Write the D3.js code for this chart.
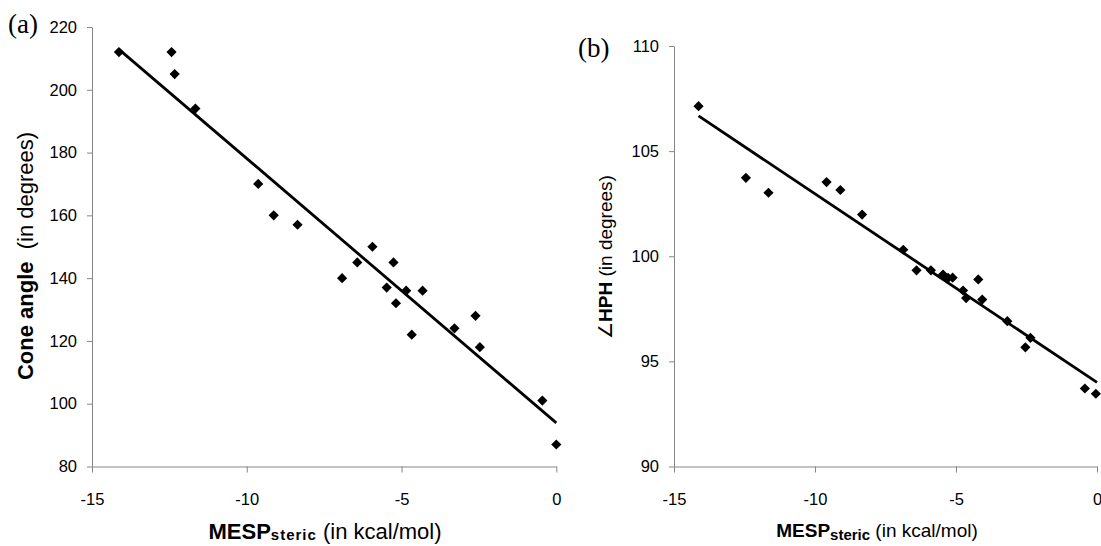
<!DOCTYPE html>
<html>
<head>
<meta charset="utf-8">
<script src="https://cdn.jsdelivr.net/npm/d3@7"></script>
<style>
  body { margin: 0; background: #fff; }
  svg { display: block; }
  .axis path, .axis line { stroke: #868686; stroke-width: 1; }
</style>
</head>
<body>
<div id="chart"></div>
<script>
// panel (a): cone angle vs MESP steric
var mespA = [-14.13, -12.43, -12.33, -11.66, -9.63, -9.13, -8.36, -6.92, -6.43, -5.94,
    -5.48, -5.26, -5.18, -4.85, -4.67, -4.32, -3.29, -2.61, -2.47, -0.45, 0.0];
var coneAngle = [212, 212, 205, 194, 170, 160, 157, 140, 145, 150,
    137, 145, 132, 136, 122, 136, 124, 128, 118, 101, 87];
var trendA = { slope: -8.42, intercept: 93.9, from: -14.13, to: 0 };
var yTicksA = [80, 100, 120, 140, 160, 180, 200, 220];

// panel (b): HPH angle vs MESP steric
var mespB = [-14.13, -12.45, -11.65, -9.59, -9.10, -8.33, -6.87, -6.40, -5.89, -5.46,
    -5.28, -5.12, -4.75, -4.64, -4.21, -4.07, -3.18, -2.54, -2.36, -0.43, -0.04];
var hphAngle = [107.14, 103.73, 103.02, 103.53, 103.15, 101.98, 100.31, 99.33, 99.33, 99.13,
    98.97, 98.98, 98.37, 98.01, 98.90, 97.94, 96.91, 95.67, 96.12, 93.71, 93.46];
var trendB = { slope: -0.897, intercept: 94.0, from: -14.13, to: 0 };
var yTicksB = [90, 95, 100, 105, 110];

var xTicks = [-15, -10, -5, 0];

var svgWidth = 1101;
var svgHeight = 546;

var svg = d3.select("#chart")
    .append("svg")
    .attr("width", svgWidth)
    .attr("height", svgHeight);

var sans = "'Liberation Sans', Arial, sans-serif";
var serif = "'Liberation Serif', 'Times New Roman', serif";

// plain hyphen instead of d3's unicode minus
var plain = d => String(d);

function styleTicks(g) {
    g.selectAll(".tick text")
        .attr("font-family", null)
        .style("font-family", sans)
        .style("font-size", "16.5px")
        .attr("fill", "#000");
}

function drawPanel(p) {
    var xScale = d3.scaleLinear().domain([-15, 0]).range([p.left, p.right]);
    var yScale = d3.scaleLinear().domain(p.yDomain).range([p.bottom, p.top]);

    // axes
    svg.append("g")
        .attr("class", "axis")
        .attr("transform", `translate(0, ${p.bottom})`)
        .call(d3.axisBottom(xScale).tickValues(xTicks).tickFormat(plain)
            .tickSize(6).tickSizeOuter(0).tickPadding(21))
        .call(styleTicks);

    svg.append("g")
        .attr("class", "axis")
        .attr("transform", `translate(${p.left}, 0)`)
        .call(d3.axisLeft(yScale).tickValues(p.yTicks).tickFormat(plain)
            .tickSize(5).tickSizeOuter(0).tickPadding(10))
        .call(styleTicks);

    // trend line
    var t = p.trend;
    svg.append("line")
        .attr("x1", xScale(t.from))
        .attr("y1", yScale(t.intercept + t.slope * t.from))
        .attr("x2", xScale(t.to))
        .attr("y2", yScale(t.intercept + t.slope * t.to))
        .attr("stroke", "#000")
        .attr("stroke-width", 2.8);

    // diamond markers
    var diamond = d3.symbol().type(d3.symbolSquare).size(52);
    svg.append("g").selectAll("path")
        .data(d3.zip(p.x, p.y))
        .enter()
        .append("path")
        .attr("d", diamond)
        .attr("transform", d => `translate(${xScale(d[0])}, ${yScale(d[1])}) rotate(45)`)
        .attr("fill", "#000");

    // panel letter
    svg.append("text")
        .attr("x", p.letterX)
        .attr("y", p.letterY)
        .style("font-family", serif)
        .style("font-size", "27px")
        .text(p.letter);

    // x title
    var xt = svg.append("text")
        .attr("x", p.xTitleX)
        .attr("y", p.xTitleY)
        .attr("text-anchor", "middle")
        .style("font-family", sans)
        .style("font-size", p.titleSize + "px");
    xt.append("tspan").style("font-weight", "bold").text("MESP");
    xt.append("tspan")
        .style("font-weight", "bold")
        .style("font-size", p.subSize + "px")
        .style("letter-spacing", p.subSpacing + "px")
        .attr("dy", p.subDy)
        .text("steric");
    xt.append("tspan").attr("dy", -p.subDy).text(" (in kcal/mol)");

    // y title
    var yt = svg.append("text")
        .attr("transform", `translate(${p.yTitleX}, ${p.yTitleY}) rotate(-90)`)
        .attr("text-anchor", "middle")
        .style("font-family", sans)
        .style("font-size", p.titleSize + "px");
    p.yTitle.forEach(function(part) {
        yt.append("tspan")
            .style("font-weight", part.bold ? "bold" : "normal")
            .text(part.text);
    });
}

drawPanel({
    left: 92, right: 556.3, top: 27, bottom: 466.5,
    yDomain: [80, 220], yTicks: yTicksA,
    x: mespA, y: coneAngle, trend: trendA,
    letter: "(a)", letterX: 8, letterY: 33,
    titleSize: 22, subSize: 15, subSpacing: 1, subDy: 1,
    xTitleX: 325, xTitleY: 539,
    yTitleX: 33, yTitleY: 256,
    yTitle: [{ text: "Cone angle", bold: true }, { text: "\u00a0 (in degrees)", bold: false }]
});

drawPanel({
    left: 674, right: 1097, top: 46, bottom: 466.5,
    yDomain: [90, 110], yTicks: yTicksB,
    x: mespB, y: hphAngle, trend: trendB,
    letter: "(b)", letterX: 578, letterY: 57,
    titleSize: 19, subSize: 15, subSpacing: 0, subDy: 3,
    xTitleX: 877, xTitleY: 537,
    yTitleX: 612, yTitleY: 257,
    yTitle: [{ text: "\u2220", bold: false }, { text: "HPH", bold: true }, { text: " (in degrees)", bold: false }]
});
</script>
</body>
</html>
